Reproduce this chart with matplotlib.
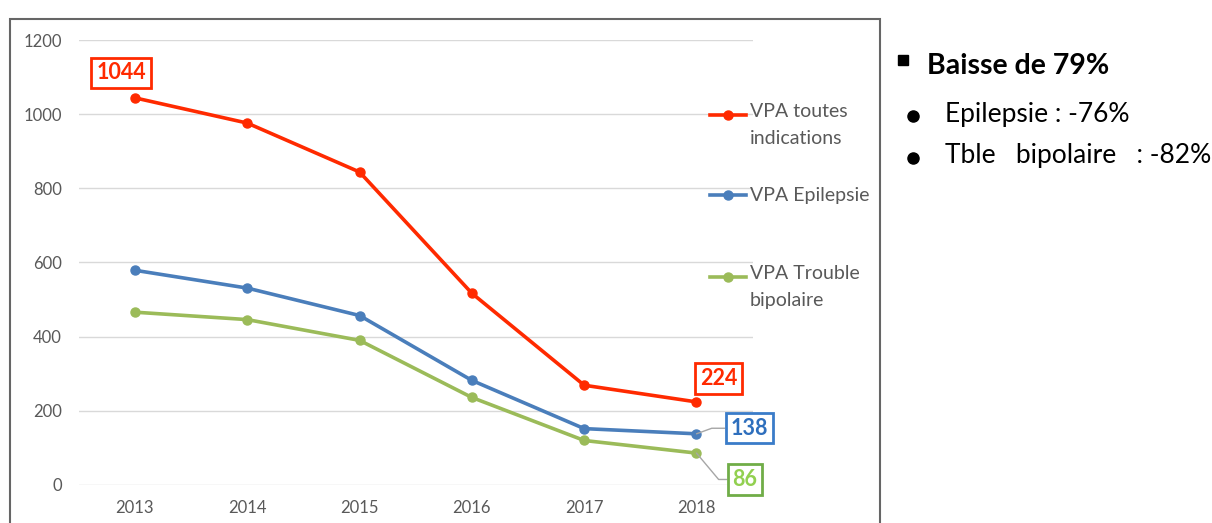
import matplotlib.pyplot as plt
from matplotlib.patches import Rectangle

years = [2013, 2014, 2015, 2016, 2017, 2018]
vpa_toutes = [1044, 976, 844, 517, 269, 224]
vpa_epilepsie = [579, 531, 457, 282, 152, 138]
vpa_bipolaire = [466, 446, 390, 236, 120, 86]
series_names = ["VPA toutes\nindications", "VPA Epilepsie", "VPA Trouble\nbipolaire"]
yticks = [0, 200, 400, 600, 800, 1000, 1200]

red = "#ff2a00"
blue = "#4a7ebb"
green = "#9bbb59"
grey_txt = "#595959"

plt.rcParams['font.family'] = ['Lato', 'DejaVu Sans']

fig = plt.figure(figsize=(12.12, 5.23), dpi=100)
ax = fig.add_axes([0.065, 0.0727, 0.556, 0.8508])

# outer frame of the chart area
fig.patches.append(Rectangle((10 / 1212, -0.05), 870 / 1212, 1 - 19 / 523 + 0.05,
                             transform=fig.transFigure, fill=False,
                             edgecolor="#666666", linewidth=1.5))

for vals, col in [(vpa_toutes, red), (vpa_epilepsie, blue), (vpa_bipolaire, green)]:
    ax.plot(years, vals, color=col, lw=2.6, marker="o", ms=6.5, zorder=3)

ax.set_xlim(2012.5, 2018.5)
ax.set_ylim(0, 1200)
ax.set_yticks(yticks)
ax.set_xticks(years)
ax.grid(axis="y", color="#d9d9d9", lw=1)
ax.set_axisbelow(True)
for s in ax.spines.values():
    s.set_visible(False)
ax.tick_params(length=0, labelsize=12, colors=grey_txt)
ax.tick_params(axis="y", pad=12)
ax.tick_params(axis="x", pad=11)

# legend drawn by hand at the right of the plot
leg_items = [(red, 115), (blue, 195), (green, 277)]
for (col, ypx), name in zip(leg_items, series_names):
    yf = 1 - ypx / 523
    fig.add_artist(plt.Line2D([710 / 1212, 746 / 1212], [yf, yf], color=col, lw=2.6,
                              transform=fig.transFigure))
    fig.add_artist(plt.Line2D([728 / 1212], [yf], color=col, marker="o", ms=6.5,
                              transform=fig.transFigure))
    if "\n" in name:
        fig.text(750 / 1212, 1 - (ypx - 12) / 523, name, ha="left", va="top",
                 fontsize=14, color=grey_txt, linespacing=1.7)
    else:
        fig.text(750 / 1212, yf, name, ha="left", va="center",
                 fontsize=14, color=grey_txt)

# data labels
def box_label(x, y, text, col, txtcol, dx=0, dy=0, leader=None):
    ax.annotate(text, (x, y), xytext=(dx, dy), textcoords="offset points",
                ha="center", va="center", fontsize=15.5, fontweight="bold", color=txtcol,
                bbox=dict(boxstyle="square,pad=0.22", fc="white", ec=col, lw=2),
                arrowprops=leader, annotation_clip=False)

box_label(years[0], vpa_toutes[0], str(vpa_toutes[0]), red, red, dx=-10, dy=18)
box_label(years[-1], vpa_toutes[-1], str(vpa_toutes[-1]), red, red, dx=16, dy=17)
box_label(years[-1], vpa_epilepsie[-1], str(vpa_epilepsie[-1]), "#3a7cc9", "#2e6fbd",
          dx=38, dy=4,
          leader=dict(arrowstyle="-", color="#a6a6a6", lw=1, shrinkA=0, shrinkB=0,
                      connectionstyle="angle,angleA=0,angleB=20,rad=0"))
box_label(years[-1], vpa_bipolaire[-1], str(vpa_bipolaire[-1]), "#70ad47", "#92d050",
          dx=35, dy=-19,
          leader=dict(arrowstyle="-", color="#a6a6a6", lw=1, shrinkA=0, shrinkB=0,
                      connectionstyle="angle,angleA=0,angleB=-50,rad=0"))

# side notes
fig.add_artist(plt.Line2D([903 / 1212], [1 - 60 / 523], color="black", marker="s", ms=6.5,
                          transform=fig.transFigure))
fig.text(927 / 1212, 1 - 66 / 523, "Baisse de 79%", fontsize=20.5, fontweight="bold",
         va="center", ha="left", color="black")
for ypx, txt in [(114, "Epilepsie : -76%"), (156, "Tble   bipolaire   : -82%")]:
    fig.add_artist(plt.Line2D([913 / 1212], [1 - (ypx + 2) / 523], color="black", marker="o",
                              ms=8, transform=fig.transFigure))
    fig.text(945 / 1212, 1 - ypx / 523, txt, fontsize=19, va="center", ha="left")

fig.savefig("out.png", dpi=100)
